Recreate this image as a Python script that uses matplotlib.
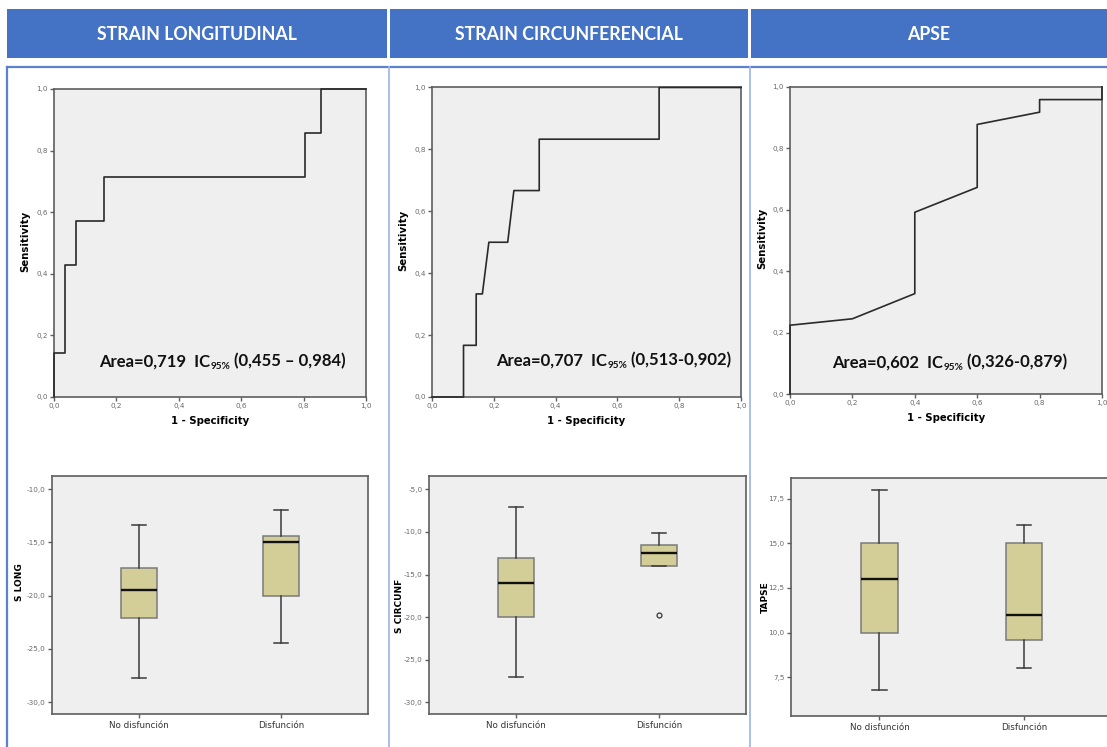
import matplotlib
matplotlib.use("Agg")
import matplotlib.pyplot as plt
from matplotlib.patches import Rectangle
from matplotlib.lines import Line2D
from matplotlib.ticker import FuncFormatter, MultipleLocator

W, H = 1107, 747
DPI = 100

# ---- data -------------------------------------------------------------
headers = ["STRAIN LONGITUDINAL", "STRAIN CIRCUNFERENCIAL", "APSE"]

# ROC curves (1 - specificity, sensitivity)
roc1_fpr = [0, 0, 0.036, 0.036, 0.071, 0.071, 0.161, 0.161, 0.804, 0.804, 0.857, 0.857, 1.0]
roc1_tpr = [0, 0.143, 0.143, 0.429, 0.429, 0.571, 0.571, 0.714, 0.714, 0.857, 0.857, 1.0, 1.0]

roc2_fpr = [0, 0.102, 0.102, 0.143, 0.143, 0.163, 0.184, 0.245, 0.265, 0.347, 0.347, 0.735, 0.735, 1.0]
roc2_tpr = [0, 0, 0.167, 0.167, 0.333, 0.333, 0.5, 0.5, 0.667, 0.667, 0.833, 0.833, 1.0, 1.0]

roc3_fpr = [0, 0, 0.2, 0.4, 0.4, 0.6, 0.6, 0.8, 0.8, 1.0, 1.0]
roc3_tpr = [0, 0.224, 0.245, 0.327, 0.592, 0.673, 0.878, 0.918, 0.959, 0.959, 1.0]

auc_text = [("Area=0,719  IC", "95%", " (0,455 \u2013 0,984)"),
            ("Area=0,707  IC", "95%", " (0,513-0,902)"),
            ("Area=0,602  IC", "95%", " (0,326-0,879)")]

groups = ["No disfunción", "Disfunción"]
box_ylabels = ["S LONG", "S CIRCUNF", "TAPSE"]

# box summaries: whislo, q1, med, q3, whishi
slong_nodis = [-27.7, -22.1, -19.5, -17.4, -13.4]
slong_dis = [-24.4, -20.0, -15.0, -14.4, -12.0]
scirc_nodis = [-27.0, -20.0, -16.0, -13.1, -7.1]
scirc_dis = [-14.0, -14.0, -12.5, -11.5, -10.1]
scirc_dis_outliers = [-19.7]
tapse_nodis = [6.8, 10.0, 13.0, 15.0, 18.0]
tapse_dis = [8.0, 9.6, 11.0, 15.0, 16.0]

# ---- styling ----------------------------------------------------------
HEADER_BLUE = "#4472C4"
FRAME_BLUE = "#5A82CE"
DIVIDER_BLUE = "#A3B9E6"
PANEL_BG = "#EFEFEF"
SPINE = "#5E5E5E"
BOX_FILL = "#D3CE98"
TICK_COLOR = "#6A6A6A"
TEXT_DARK = "#111111"

fig = plt.figure(figsize=(W / DPI, H / DPI), dpi=DPI)
fig.patch.set_facecolor("white")
renderer = fig.canvas.get_renderer()


def px_axes(l, t, r, b):
    return fig.add_axes([l / W, 1 - b / H, (r - l) / W, (b - t) / H])


def fx(x):
    return x / W


def fy(y):
    return 1 - y / H


def comma_fmt(v, pos):
    return f"{v:.1f}".replace(".", ",")


def style_axes(ax):
    ax.set_facecolor(PANEL_BG)
    for s in ax.spines.values():
        s.set_color(SPINE)
        s.set_linewidth(1.2)
    ax.tick_params(direction="out", length=3, width=1, color=SPINE,
                   labelsize=5.2, labelcolor=TICK_COLOR, pad=1.5)
    for lab in ax.get_xticklabels() + ax.get_yticklabels():
        lab.set_family("DejaVu Sans")


# ---- header bar and frame ---------------------------------------------
cells = [(7, 387), (390, 748), (751, 1110)]
for (x0, x1), title in zip(cells, headers):
    fig.patches.append(Rectangle((fx(x0), fy(58)), (x1 - x0) / W, 49 / H,
                                 transform=fig.transFigure, facecolor=HEADER_BLUE,
                                 edgecolor="none"))
    fig.text(fx((x0 + min(x1, W)) / 2), fy(34.5), title, color="white",
             ha="center", va="center", fontsize=12.8, fontweight="bold",
             family="Lato")

fig.lines.append(Line2D([fx(6.5), 1.0], [fy(66.5), fy(66.5)],
                        transform=fig.transFigure, color=FRAME_BLUE, lw=1.6))
fig.lines.append(Line2D([fx(6.5), fx(6.5)], [fy(66.5), 0],
                        transform=fig.transFigure, color=FRAME_BLUE, lw=1.6))
for xd in (388.5, 750.0):
    fig.lines.append(Line2D([fx(xd), fx(xd)], [fy(67), 0],
                            transform=fig.transFigure, color=DIVIDER_BLUE, lw=1.3))

# ---- ROC panels -------------------------------------------------------
roc_rects = [(54, 89, 366, 397), (432, 87.5, 741, 397), (790, 87, 1102, 394)]
roc_data = [(roc1_fpr, roc1_tpr), (roc2_fpr, roc2_tpr), (roc3_fpr, roc3_tpr)]
text_pos = [(99, 366.5), (496, 365.5), (832, 367.5)]
sens_x = [25, 403, 762]

for rect, (fpr, tpr), (tx, ty), parts, sx in zip(roc_rects, roc_data, text_pos,
                                                   auc_text, sens_x):
    ax = px_axes(*rect)
    ax.plot(fpr, tpr, color="#2A2A2A", lw=1.2, clip_on=False, zorder=3)
    ax.set_xlim(0, 1)
    ax.set_ylim(0, 1)
    ax.xaxis.set_major_locator(MultipleLocator(0.2))
    ax.yaxis.set_major_locator(MultipleLocator(0.2))
    ax.xaxis.set_major_formatter(FuncFormatter(comma_fmt))
    ax.yaxis.set_major_formatter(FuncFormatter(comma_fmt))
    style_axes(ax)
    ax.set_xlabel("1 - Specificity", fontsize=7.3, fontweight="bold",
                  family="DejaVu Sans", labelpad=5)
    fig.text(fx(sx), fy((rect[1] + rect[3]) / 2 - 2), "Sensitivity", rotation=90,
             ha="center", va="center", fontsize=7.3, fontweight="bold",
             family="DejaVu Sans")

    # area annotation with a subscripted confidence level
    t1 = fig.text(fx(tx), fy(ty), parts[0], fontsize=12, fontweight="bold",
                  family="Lato", color=TEXT_DARK, va="baseline", ha="left")
    x_end = t1.get_window_extent(renderer).x1
    t2 = fig.text(fx(x_end + 0.5), fy(ty + 2.8), parts[1], fontsize=7.2,
                  fontweight="bold", family="Lato", color=TEXT_DARK,
                  va="baseline", ha="left")
    x_end = t2.get_window_extent(renderer).x1
    fig.text(fx(x_end), fy(ty), parts[2], fontsize=12, fontweight="bold",
             family="Lato", color=TEXT_DARK, va="baseline", ha="left")

# ---- box plots --------------------------------------------------------
def stats(vals, label, fliers=()):
    lo, q1, med, q3, hi = vals
    return dict(whislo=lo, q1=q1, med=med, q3=q3, whishi=hi,
                fliers=list(fliers), label=label)


box_sets = [
    [stats(slong_nodis, groups[0]), stats(slong_dis, groups[1])],
    [stats(scirc_nodis, groups[0]), stats(scirc_dis, groups[1], scirc_dis_outliers)],
    [stats(tapse_nodis, groups[0]), stats(tapse_dis, groups[1])],
]
box_rects = [(52, 476, 368, 714), (429, 476, 746, 714), (791, 478, 1112, 716)]
box_ylims = [(-31.1, -8.78), (-31.37, -3.44), (5.33, 18.66)]
box_ticks = [[-30, -25, -20, -15, -10], [-30, -25, -20, -15, -10, -5],
             [7.5, 10, 12.5, 15, 17.5]]
ylabel_pos = [(20, 582), (400, 606), (765, 597)]

for rect, bstats, ylim, ticks, ylab, (lx, ly) in zip(box_rects, box_sets, box_ylims,
                                                      box_ticks, box_ylabels,
                                                      ylabel_pos):
    ax = px_axes(*rect)
    ax.bxp(bstats, positions=[0, 1], widths=0.253, patch_artist=True,
           capwidths=0.1,
           boxprops=dict(facecolor=BOX_FILL, edgecolor="#7A7A7A", linewidth=1.1),
           whiskerprops=dict(color="#3A3A3A", linewidth=1.1),
           capprops=dict(color="#3A3A3A", linewidth=1.1),
           medianprops=dict(color=TEXT_DARK, linewidth=1.7),
           flierprops=dict(marker="o", markersize=3.5, markerfacecolor="none",
                           markeredgecolor="#333333", markeredgewidth=0.9))
    ax.set_xlim(-0.612, 1.61)
    ax.set_ylim(*ylim)
    ax.set_yticks(ticks)
    ax.yaxis.set_major_formatter(FuncFormatter(comma_fmt))
    style_axes(ax)
    ax.tick_params(axis="x", labelsize=6.3, labelcolor="#333333", pad=2)
    fig.text(fx(lx), fy(ly), ylab, rotation=90, ha="center", va="center",
             fontsize=6.5, fontweight="bold", family="DejaVu Sans")

fig.savefig("out.png", dpi=DPI)
